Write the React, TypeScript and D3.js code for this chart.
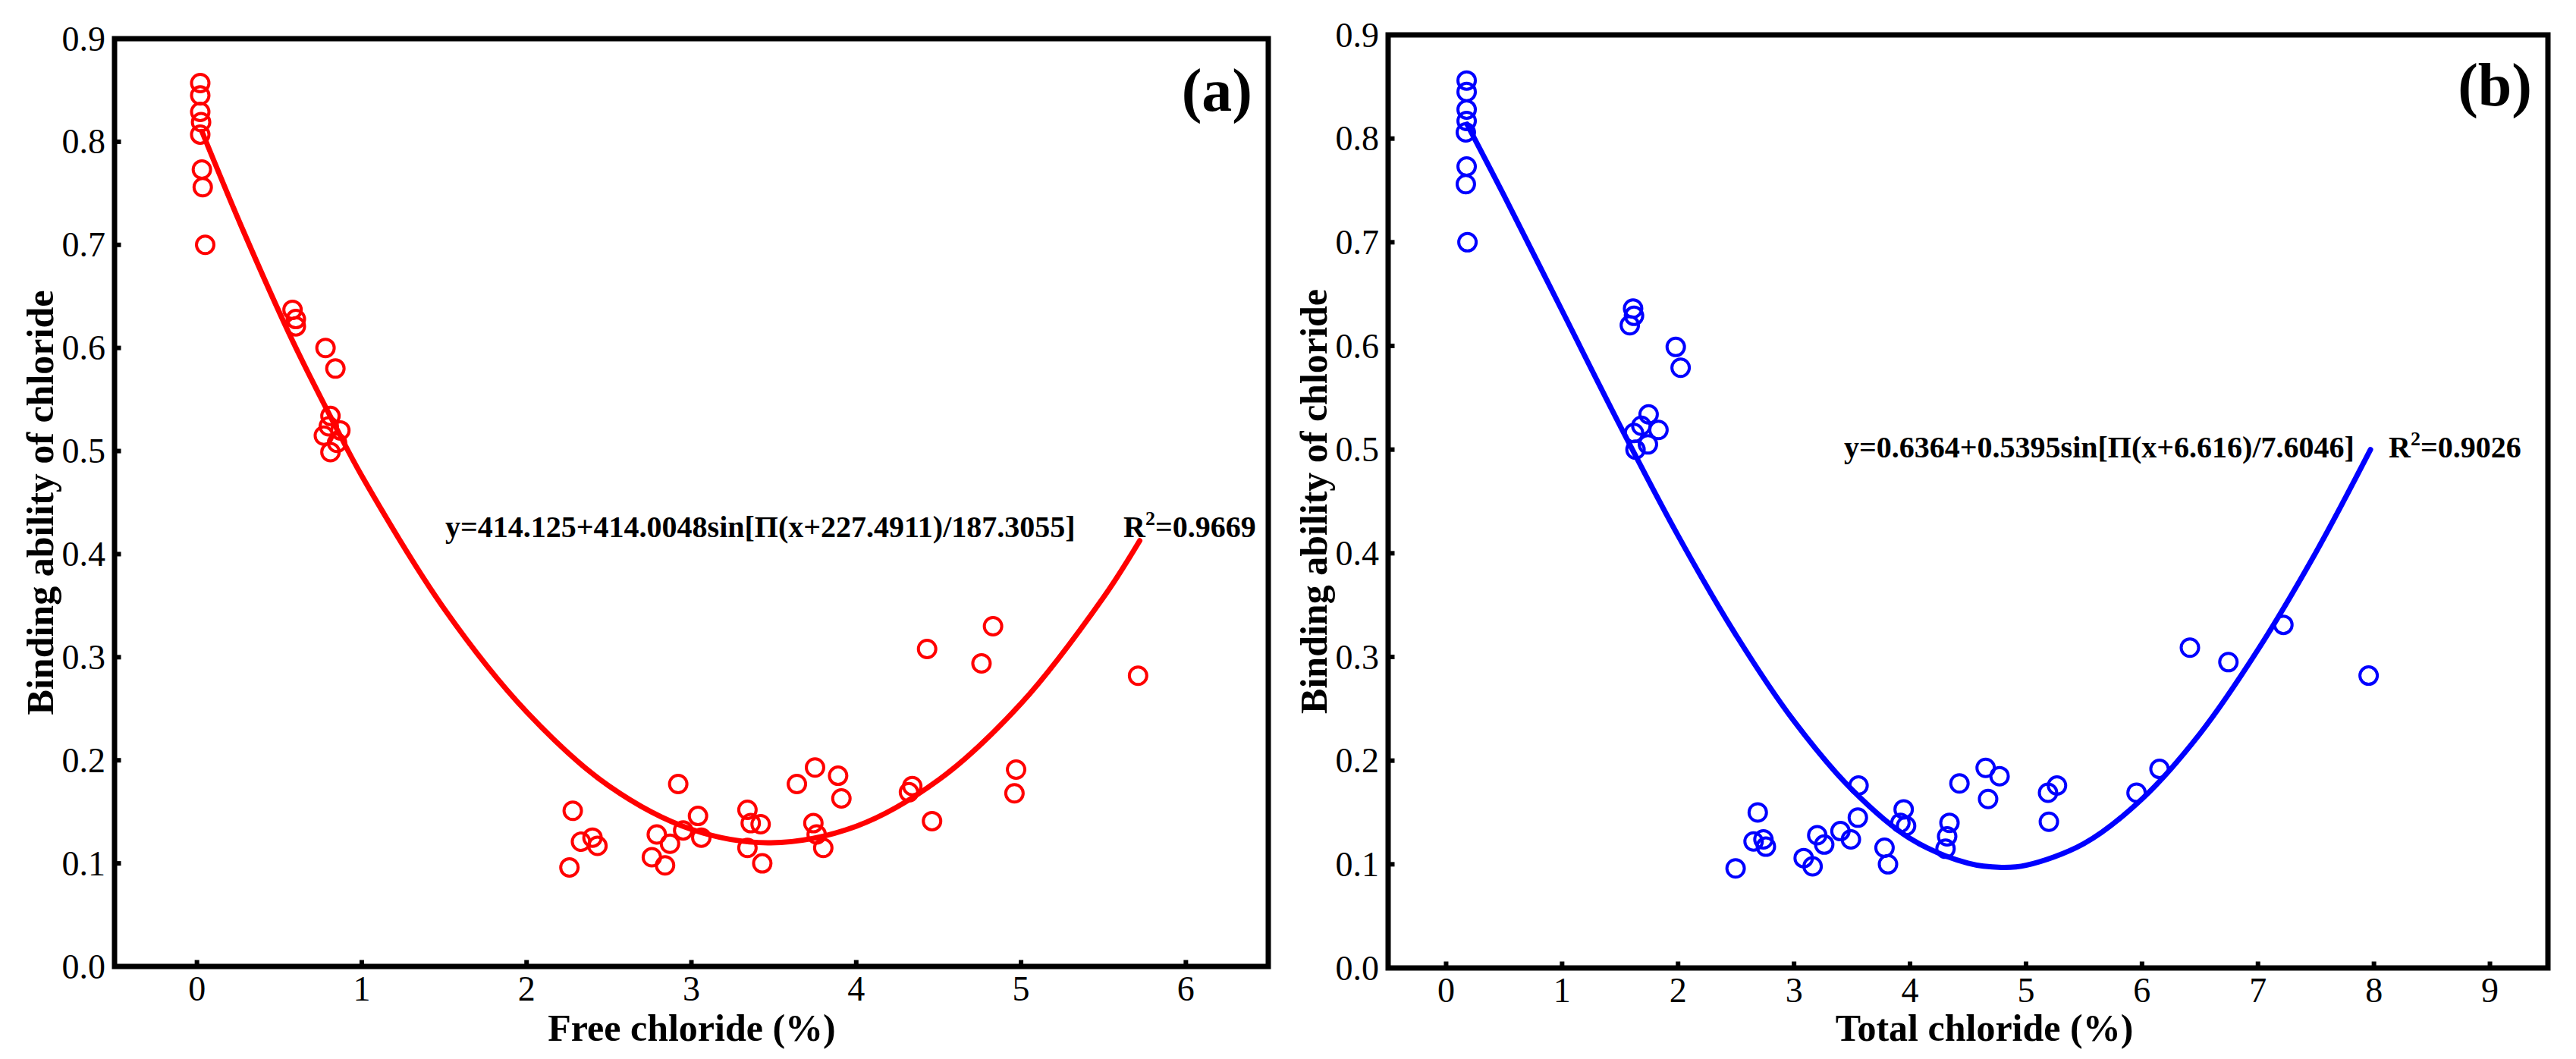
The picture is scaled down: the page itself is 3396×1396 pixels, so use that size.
import React from "react";
import * as d3 from "d3";

// ---------- data ----------
const yTicks = [0.0, 0.1, 0.2, 0.3, 0.4, 0.5, 0.6, 0.7, 0.8, 0.9];
const xTicksA = [0, 1, 2, 3, 4, 5, 6];
const xTicksB = [0, 1, 2, 3, 4, 5, 6, 7, 8, 9];

const freeX = [0.02, 0.02, 0.02, 0.025, 0.02, 0.03, 0.035, 0.05, 0.58, 0.6, 0.6, 0.78, 0.84, 0.81, 0.8, 0.87, 0.77, 0.85, 0.81,
  2.26, 2.28, 2.33, 2.4, 2.43, 2.76, 2.79, 2.84, 2.87, 2.92, 2.95, 3.04, 3.06, 3.34, 3.36, 3.42, 3.34, 3.43, 3.64, 3.75, 3.74,
  3.76, 3.8, 3.89, 3.91, 4.32, 4.34, 4.46, 4.43, 4.76, 4.83, 4.97, 4.96, 5.71];
const freeY = [0.857, 0.845, 0.829, 0.819, 0.807, 0.773, 0.756, 0.7, 0.637, 0.628, 0.621, 0.6, 0.58, 0.534, 0.524, 0.52, 0.515, 0.508, 0.499,
  0.096, 0.151, 0.121, 0.125, 0.117, 0.106, 0.128, 0.098, 0.119, 0.177, 0.132, 0.146, 0.125, 0.152, 0.139, 0.138, 0.115, 0.1, 0.177, 0.193, 0.139,
  0.128, 0.115, 0.185, 0.163, 0.169, 0.175, 0.141, 0.308, 0.294, 0.33, 0.191, 0.168, 0.282];

const totalX = [0.177, 0.177, 0.177, 0.177, 0.17, 0.177, 0.17, 0.184, 1.612, 1.62, 1.584, 1.98, 2.022, 1.746, 1.683, 1.831, 1.62, 1.74, 1.633,
  2.496, 2.687, 2.651, 2.736, 2.757, 3.083, 3.16, 3.2, 3.26, 3.4, 3.49, 3.55, 3.556, 3.78, 3.81, 3.945, 3.917, 3.966, 4.306, 4.32, 4.34,
  4.426, 4.652, 4.673, 4.772, 5.19, 5.197, 5.267, 5.953, 6.151, 6.413, 6.745, 7.219, 7.954];
const totalY = [0.856, 0.845, 0.828, 0.817, 0.806, 0.773, 0.756, 0.7, 0.636, 0.629, 0.62, 0.599, 0.579, 0.534, 0.523, 0.519, 0.516, 0.505, 0.5,
  0.096, 0.15, 0.122, 0.124, 0.117, 0.106, 0.098, 0.128, 0.119, 0.132, 0.124, 0.145, 0.176, 0.116, 0.1, 0.153, 0.14, 0.137, 0.115, 0.127, 0.14,
  0.178, 0.193, 0.163, 0.185, 0.169, 0.141, 0.176, 0.169, 0.192, 0.309, 0.295, 0.331, 0.282];

const fitAX = [0.03, 0.28, 0.58, 0.85, 1.0, 1.5, 2.0, 2.5, 3.0, 3.475, 4.0, 4.5, 5.0, 5.5, 5.72];
const fitAY = [0.81, 0.714, 0.607, 0.521, 0.476, 0.347, 0.247, 0.175, 0.133, 0.12, 0.136, 0.181, 0.255, 0.358, 0.413];
const fitBX = [0.18, 0.5, 1.0, 1.5, 2.0, 2.5, 3.0, 3.5, 4.0, 4.5, 4.79, 5.0, 5.5, 6.0, 6.5, 7.0, 7.5, 7.97];
const fitBY = [0.814, 0.745, 0.634, 0.523, 0.417, 0.321, 0.238, 0.172, 0.125, 0.101, 0.097, 0.099, 0.12, 0.163, 0.226, 0.307, 0.401, 0.5];

const eqA = "y=414.125+414.0048sin[\u03A0(x+227.4911)/187.3055]";
const r2A = "0.9669";
const eqB = "y=0.6364+0.5395sin[\u03A0(x+6.616)/7.6046]";
const r2B = "0.9026";

const FONT = "'Times New Roman', 'Liberation Serif', serif";

type PanelProps = {
  left: number; right: number; top: number; bottom: number;
  xDomain: [number, number]; xTicks: number[];
  px: number[]; py: number[]; fx: number[]; fy: number[];
  color: string; xTitle: string; xTitleX: number; label: string; labelY: number;
  eq: string; r2: string; eqX: number; eqY: number; r2X: number;
};

function Panel(p: PanelProps) {
  const x = d3.scaleLinear().domain(p.xDomain).range([p.left, p.right]);
  const y = d3.scaleLinear().domain([0, 0.9]).range([p.bottom, p.top]);
  const line = d3.line<number>()
    .x((_, i) => x(p.fx[i]))
    .y((d) => y(d))
    .curve(d3.curveCatmullRom.alpha(0.5));
  const path = line(p.fy) || "";
  const cy = (p.top + p.bottom) / 2;
  return (
    <g>
      {/* fit curve */}
      <path d={path} fill="none" stroke={p.color} strokeWidth={7} strokeLinecap="round" />
      {/* points */}
      {p.px.map((v, i) => (
        <circle key={i} cx={x(v)} cy={y(p.py[i])} r={11.5} fill="none" stroke={p.color} strokeWidth={4} />
      ))}
      {/* frame */}
      <rect x={p.left} y={p.top} width={p.right - p.left} height={p.bottom - p.top} fill="none" stroke="#000" strokeWidth={7} />
      {/* y ticks */}
      {yTicks.map((t) => (
        <g key={"y" + t}>
          <line x1={p.left} x2={p.left + 8.5} y1={y(t)} y2={y(t)} stroke="#000" strokeWidth={6} />
          <text x={p.left - 12} y={y(t)} dominantBaseline="central" textAnchor="end" fontFamily={FONT} fontSize={46}>
            {t.toFixed(1)}
          </text>
        </g>
      ))}
      {/* x ticks */}
      {p.xTicks.map((t) => (
        <g key={"x" + t}>
          <line x1={x(t)} x2={x(t)} y1={p.bottom} y2={p.bottom - 8.5} stroke="#000" strokeWidth={6} />
          <text x={x(t)} y={p.bottom + 45} textAnchor="middle" fontFamily={FONT} fontSize={46}>
            {String(t)}
          </text>
        </g>
      ))}
      {/* axis titles */}
      <text x={p.xTitleX} y={1372} textAnchor="middle" fontFamily={FONT} fontWeight="bold" fontSize={50}>
        {p.xTitle}
      </text>
      <text transform={`translate(${p.left - 81},${cy}) rotate(-90)`} textAnchor="middle" fontFamily={FONT} fontWeight="bold" fontSize={50}>
        Binding ability of chloride
      </text>
      {/* panel label */}
      <text x={p.right - 21} y={p.labelY} textAnchor="end" fontFamily={FONT} fontWeight="bold" fontSize={80}>
        {p.label}
      </text>
      {/* equation */}
      <text x={p.eqX} y={p.eqY} fontFamily={FONT} fontWeight="bold" fontSize={40}>{p.eq}</text>
      <text x={p.r2X} y={p.eqY} fontFamily={FONT} fontWeight="bold" fontSize={40}>
        R<tspan fontSize={26} dy={-16}>2</tspan><tspan dy={16}>={p.r2}</tspan>
      </text>
    </g>
  );
}

export default function App() {
  return (
    <svg width={3396} height={1396} viewBox="0 0 3396 1396"
      style={{ position: "absolute", left: 0, top: 0, display: "block", background: "#fff" }}>
      <rect x={0} y={0} width={3396} height={1396} fill="#fff" />
      <Panel left={151} right={1672} top={51} bottom={1274} xDomain={[-0.5, 6.5]} xTicks={xTicksA}
        px={freeX} py={freeY} fx={fitAX} fy={fitAY} color="#FF0000" xTitle="Free chloride (%)" xTitleX={912}
        label="(a)" labelY={146} eq={eqA} r2={r2A} eqX={587} eqY={708} r2X={1481} />
      <Panel left={1830} right={3359} top={46} bottom={1276} xDomain={[-0.5, 9.5]} xTicks={xTicksB}
        px={totalX} py={totalY} fx={fitBX} fy={fitBY} color="#0000FF" xTitle="Total chloride (%)" xTitleX={2616}
        label="(b)" labelY={139} eq={eqB} r2={r2B} eqX={2431} eqY={603} r2X={3149} />
    </svg>
  );
}
